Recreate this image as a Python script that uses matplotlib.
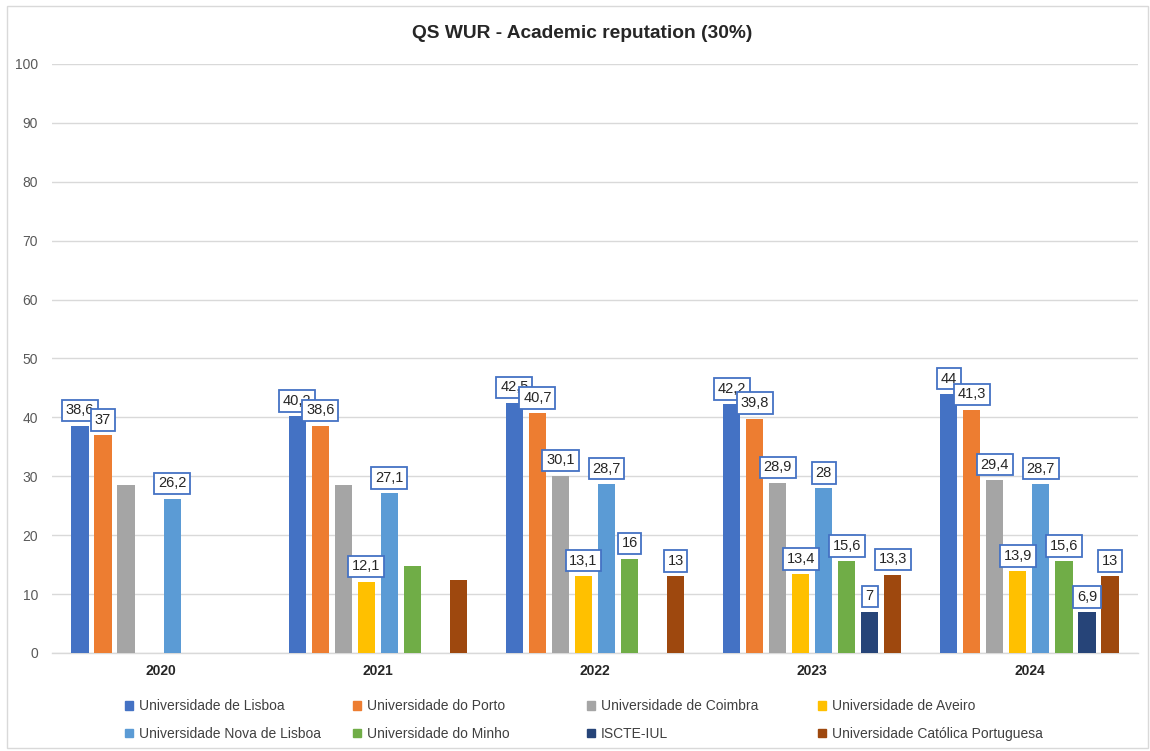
import numpy as np
import matplotlib
matplotlib.use("Agg")
import matplotlib.pyplot as plt
from matplotlib.patches import Rectangle, Patch

plt.rcParams['font.family'] = ['Liberation Sans', 'DejaVu Sans']

years = ["2020", "2021", "2022", "2023", "2024"]
series_names = [
    "Universidade de Lisboa", "Universidade do Porto", "Universidade de Coimbra",
    "Universidade de Aveiro", "Universidade Nova de Lisboa", "Universidade do Minho",
    "ISCTE-IUL", "Universidade Católica Portuguesa",
]
nan = np.nan
lisboa   = [38.6, 40.2, 42.5, 42.2, 44.0]
porto    = [37.0, 38.6, 40.7, 39.8, 41.3]
coimbra  = [28.6, 28.6, 30.1, 28.9, 29.4]
aveiro   = [nan, 12.1, 13.1, 13.4, 13.9]
nova     = [26.2, 27.1, 28.7, 28.0, 28.7]
minho    = [nan, 14.7, 16.0, 15.6, 15.6]
iscte    = [nan, nan, nan, 7.0, 6.9]
catolica = [nan, 12.4, 13.0, 13.3, 13.0]
# which values carry a data label (per series, per year)
lisboa_lbl   = [1, 1, 1, 1, 1]
porto_lbl    = [1, 1, 1, 1, 1]
coimbra_lbl  = [0, 0, 1, 1, 1]
aveiro_lbl   = [0, 1, 1, 1, 1]
nova_lbl     = [1, 1, 1, 1, 1]
minho_lbl    = [0, 0, 1, 1, 1]
iscte_lbl    = [0, 0, 0, 1, 1]
catolica_lbl = [0, 0, 1, 1, 1]

series_vals = [lisboa, porto, coimbra, aveiro, nova, minho, iscte, catolica]
series_lbls = [lisboa_lbl, porto_lbl, coimbra_lbl, aveiro_lbl, nova_lbl, minho_lbl, iscte_lbl, catolica_lbl]
colors = ["#4472C4", "#ED7D31", "#A5A5A5", "#FFC000", "#5B9BD5", "#70AD47", "#264478", "#9E480E"]

W, H = 1150, 751
fig = plt.figure(figsize=(W/100, H/100), dpi=100)
ax = fig.add_axes([52/W, 1-653/H, (1138-52)/W, (653-64)/H])

x = np.arange(len(years))
slot = 0.106
bw = 0.079
n = len(series_vals)

def fmt(v):
    if abs(v - round(v)) < 1e-9:
        return f"{int(round(v))}"
    return f"{v:.1f}".replace(".", ",")

for i, (vals, lbls, c) in enumerate(zip(series_vals, series_lbls, colors)):
    pos = x + (i - (n-1)/2) * slot
    v = np.array(vals, dtype=float)
    ax.bar(pos, v, width=bw, color=c, zorder=3)

for i, (vals, lbls) in enumerate(zip(series_vals, series_lbls)):
    pos = x + (i - (n-1)/2) * slot
    for p, v, l in zip(pos, vals, lbls):
        if l and not np.isnan(v):
            ax.annotate(fmt(v), xy=(p, v), xytext=(0, 6), textcoords="offset points",
                        ha="center", va="bottom", fontsize=10.5, color="#262626", zorder=5,
                        bbox=dict(boxstyle="square,pad=0.26", fc="white", ec="#4472C4", lw=1.3))

ax.set_xlim(-0.5, len(years)-0.5)
ax.set_ylim(0, 100)
ax.set_yticks(np.arange(0, 101, 10))
ax.set_xticks(x)
ax.set_xticklabels(years, fontsize=10, fontweight="bold", color="#262626")
ax.tick_params(axis="y", length=0, pad=10, labelsize=10, labelcolor="#595959")
ax.tick_params(axis="x", length=0, pad=8)
ax.grid(axis="y", color="#D9D9D9", lw=1.0, zorder=0)
for s in ["top", "right", "left"]:
    ax.spines[s].set_visible(False)
ax.spines["bottom"].set_color("#D9D9D9")
ax.spines["bottom"].set_linewidth(1.0)

fig.text(582/W, 1-33/H, "QS WUR - Academic reputation (30%)", ha="center", va="center",
         fontsize=13.8, fontweight="bold", color="#262626")

# legend: 4 columns, 2 rows
col_x = [125, 353, 587, 818]
for ci in range(4):
    handles = [Patch(color=colors[ci]), Patch(color=colors[ci+4])]
    labels = [series_names[ci], series_names[ci+4]]
    leg = fig.legend(handles, labels, loc="center left",
                     bbox_to_anchor=(col_x[ci]/W, 1-720/H), frameon=False,
                     fontsize=10, handlelength=0.6, handleheight=0.6, handletextpad=0.4,
                     labelspacing=1.0, borderpad=0, borderaxespad=0)
    for t in leg.get_texts():
        t.set_color("#404040")

fig.patches.append(Rectangle((7/W, 3/H), (1148-7)/W, (745-3)/H, transform=fig.transFigure,
                             fill=False, ec="#D9D9D9", lw=1.0))

fig.savefig("out.png", dpi=100, facecolor="white")
